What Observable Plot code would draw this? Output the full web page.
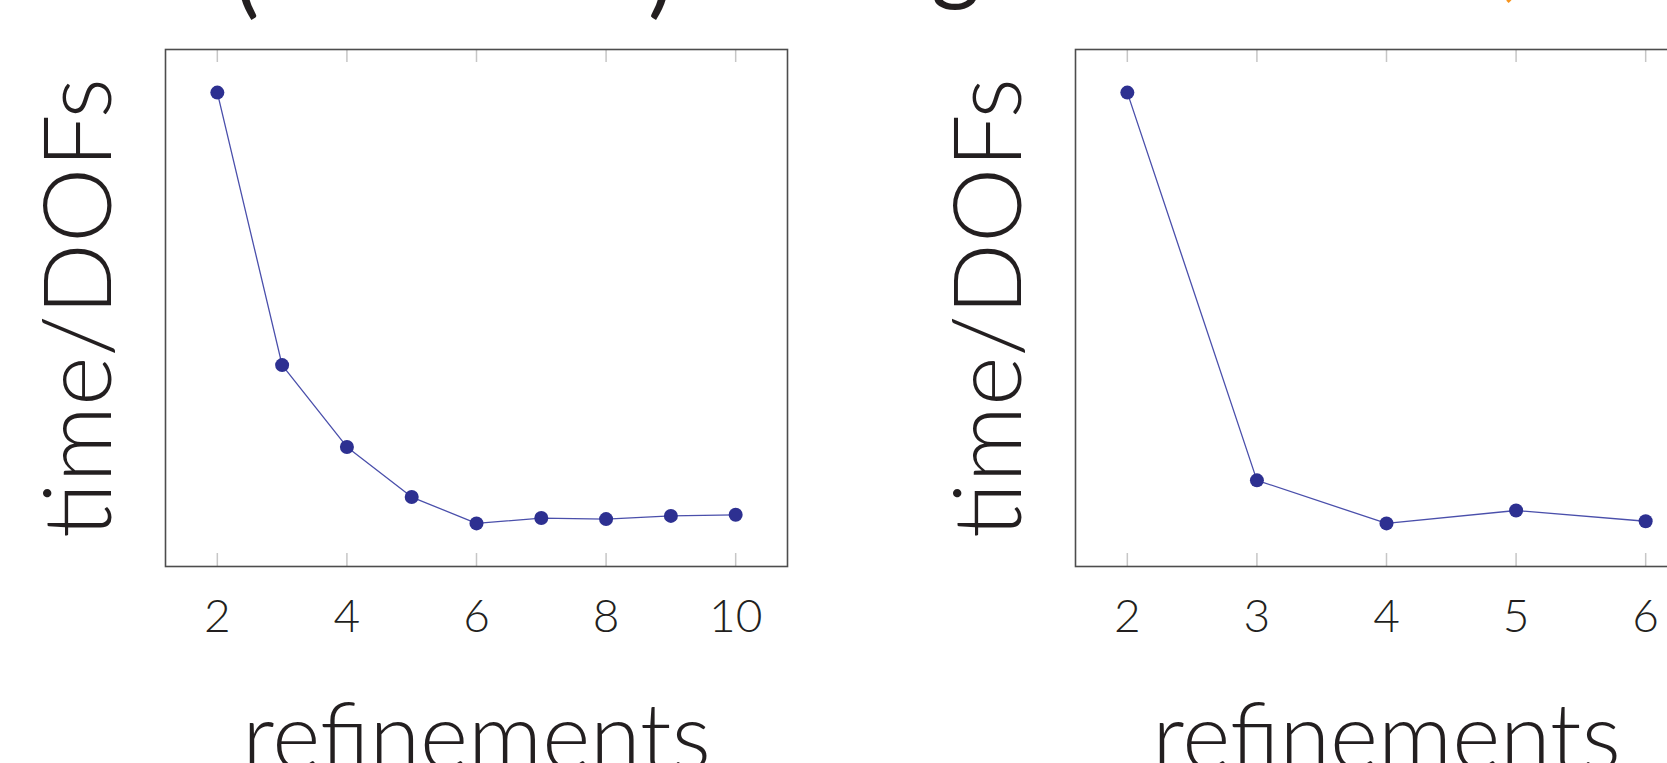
<!DOCTYPE html>
<html>
<head>
<meta charset="utf-8">
<script src="https://cdn.jsdelivr.net/npm/d3@7"></script>
<script src="https://cdn.jsdelivr.net/npm/@observablehq/plot@0.6"></script>
<style>
  html, body { margin: 0; padding: 0; background: #fff; }
  body { width: 1667px; height: 763px; overflow: hidden; position: relative; font-family: Lato, "Open Sans", sans-serif; }
  .panel { position: absolute; top: 0; width: 834px; height: 763px; }
  #title { position: absolute; top: 0; left: 0; z-index: 2; }
</style>
</head>
<body>
<div class="panel" id="left" style="left:0px"></div>
<div class="panel" id="right" style="left:910px"></div>
<svg id="title" width="1667" height="60"></svg>
<script>
// ---- data (y in arbitrary units) ----
const leftRefinements = [2, 3, 4, 5, 6, 7, 8, 9, 10];
const leftTimePerDof  = [4.50, 1.97, 1.21, 0.745, 0.50, 0.55, 0.54, 0.57, 0.58];
const rightRefinements = [2, 3, 4, 5, 6];
const rightTimePerDof  = [4.50, 0.90, 0.50, 0.62, 0.52];
const leftTicks  = [2, 4, 6, 8, 10];
const rightTicks = [2, 3, 4, 5, 6];
const xLabel = "refinements";
const yLabel = "time/DOFs";
// visible bottoms of the cut-off title line
const titleFragments = [
  {t: "(", x: 234, y: 6,   c: "#231f20"},
  {t: ")", x: 648, y: 6,   c: "#231f20"},
  {t: "g", x: 931, y: -7,  c: "#231f20"},
  {t: ",", x: 1501, y: -10, c: "#f7941d"}
];

const FONT = "Lato, 'Open Sans', sans-serif";
const INK = "#231f20";

function enlarged(values, k) {
  const [lo, hi] = d3.extent(values);
  const pad = k * (hi - lo);
  return [lo - pad, hi + pad];
}

function panel(xs, ys, ticks) {
  const data = xs.map((x, i) => ({x, y: ys[i]}));
  const W = 834, H = 763, mt = 49, mb = 197, ml = 165, mr = 47;
  const ih = H - mt - mb;
  const tickLen = 13;
  return Plot.plot({
    width: W, height: H,
    marginTop: mt, marginBottom: mb, marginLeft: ml, marginRight: mr,
    style: {background: "#fff", maxWidth: "none", fontFamily: FONT, overflow: "hidden"},
    x: {domain: enlarged(xs, 0.1), ticks, tickFormat: d3.format("d")},
    y: {domain: enlarged(ys, 0.1), axis: null},
    marks: [
      Plot.ruleX(ticks, {x: d => d, insetBottom: ih - tickLen, stroke: "#c6c6c6", strokeWidth: 1.5}),
      Plot.ruleX(ticks, {x: d => d, insetTop: ih - tickLen, stroke: "#c6c6c6", strokeWidth: 1.5}),
      Plot.frame({stroke: "#4d4d4d", strokeWidth: 1.6}),
      Plot.axisX(ticks, {anchor: "bottom", tickSize: 0, tickPadding: 33, fontSize: 46, fontWeight: 300, fill: INK, label: null, tickFormat: d3.format("d")}),
      Plot.line(data, {x: "x", y: "y", stroke: "#4a4fab", strokeWidth: 1.3}),
      Plot.dot(data, {x: "x", y: "y", r: 7, fill: "#2d3091", stroke: "none"}),
      Plot.text([yLabel], {text: d => d, frameAnchor: "left", rotate: -90, dx: -55, lineAnchor: "bottom", textAnchor: "middle", fontSize: 95, fontWeight: 300, fill: INK}),
      Plot.text([xLabel], {text: d => d, frameAnchor: "bottom", dy: 202, lineAnchor: "bottom", textAnchor: "middle", fontSize: 92, fontWeight: 300, fill: INK})
    ]
  });
}

document.getElementById("left").appendChild(panel(leftRefinements, leftTimePerDof, leftTicks));
document.getElementById("right").appendChild(panel(rightRefinements, rightTimePerDof, rightTicks));

const title = d3.select("#title");
title.selectAll("text").data(titleFragments).join("text")
  .attr("x", d => d.x).attr("y", d => d.y)
  .attr("font-family", FONT).attr("font-size", 95).attr("font-weight", 400)
  .attr("fill", d => d.c).text(d => d.t);
</script>
</body>
</html>
